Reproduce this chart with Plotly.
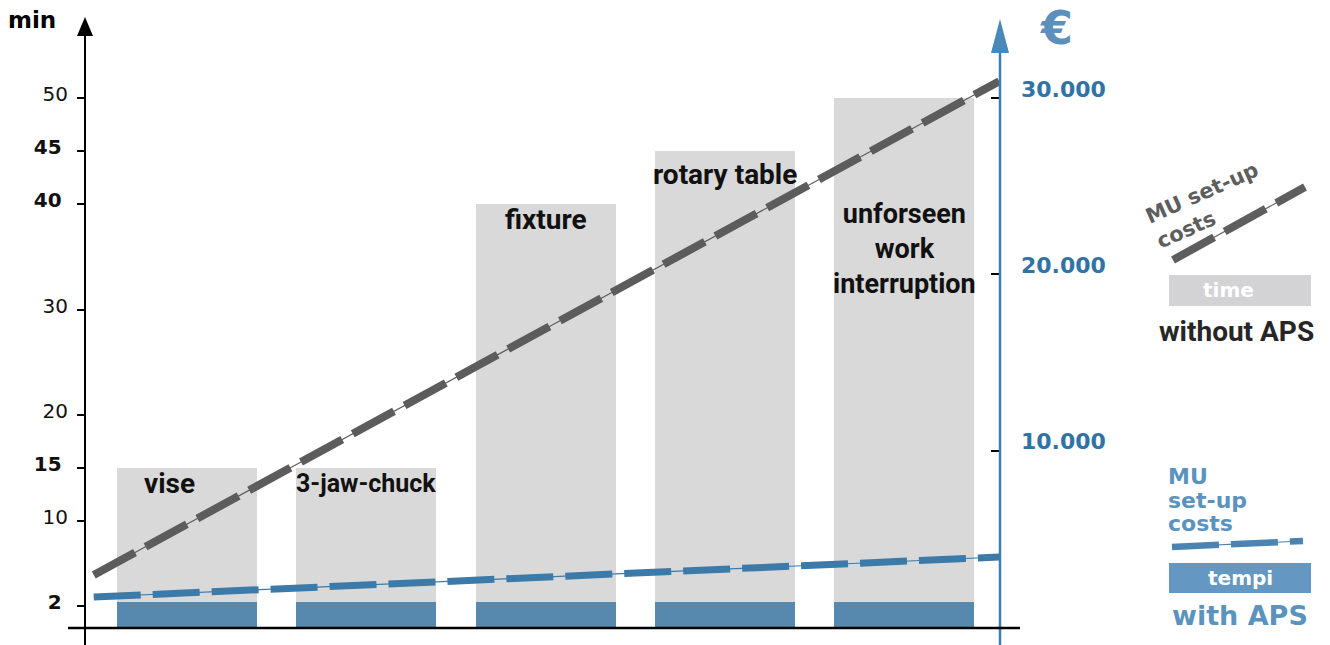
import plotly.graph_objects as go

# ---------------- data ----------------
categories = ["vise", "3-jaw-chuck", "fixture", "rotary table",
              "unforseen<br>work<br>interruption"]
time_without_aps = [15, 15, 40, 45, 50]          # min (grey bars)
time_with_aps = [2.4, 2.4, 2.4, 2.4, 2.4]        # min (blue bars)
cost_line_x = [-0.52, 4.53]                      # category-axis extent of cost lines
cost_without_aps = [2950, 30950]                 # € (grey dashed)
cost_with_aps = [1700, 3970]                     # € (blue dashed)
min_tickvals = [2, 10, 15, 20, 30, 40, 45, 50]
min_ticktext = ["<b>2</b>\u00a0", "10", "<b>15</b>\u00a0", "20", "30",
                "<b>40</b>\u00a0", "<b>45</b>\u00a0", "50"]
eur_tickvals = [10000, 20000, 30000]
eur_ticktext = ["10.000", "20.000", "30.000"]

# ---------------- layout geometry (screen pixels) ----------------
W, H = 1330, 645
LEFT_AX, RIGHT_AX, TOP_PX, BOT_PX = 85, 1000, 20, 627
ML, MR = LEFT_AX, W - RIGHT_AX
MT, MB = TOP_PX, H - BOT_PX
PW, PH = W - ML - MR, H - MT - MB
Y_TOP = (BOT_PX - TOP_PX) / 10.58     # minutes at top of plot area
EUR_PER_MIN = 600.0
CAT_STEP, CAT0 = 179.3, 187.0
X_RANGE = [(LEFT_AX - CAT0) / CAT_STEP, (RIGHT_AX - CAT0) / CAT_STEP]


def px(xs):
    return (xs - LEFT_AX) / PW


def py(ys):
    return (BOT_PX - ys) / PH


NARROW = "Roboto, sans-serif"
WIDE = "DejaVu Sans, Verdana, sans-serif"
GREY_BAR = "#d9d9d9"
BLUE_BAR = "#5689ad"
GREY_LINE = "#5c5c5c"
BLUE_LINE = "#3c7aa9"
AXIS_BLUE = "#3d7db1"

idx = list(range(len(categories)))

fig = go.Figure()
fig.add_trace(go.Bar(x=idx, y=time_without_aps, width=0.78, marker_color=GREY_BAR,
                     marker_line_width=0, hoverinfo="skip", showlegend=False))
fig.add_trace(go.Bar(x=idx, y=time_with_aps, width=0.78, marker_color=BLUE_BAR,
                     marker_line_width=0, hoverinfo="skip", showlegend=False))

for vals, color, w in [(cost_without_aps, GREY_LINE, 8), (cost_with_aps, BLUE_LINE, 7)]:
    fig.add_trace(go.Scatter(x=cost_line_x, y=vals, yaxis="y2", mode="lines",
                             line=dict(color=color, width=1.2), hoverinfo="skip",
                             showlegend=False))
    fig.add_trace(go.Scatter(x=cost_line_x, y=vals, yaxis="y2", mode="lines",
                             line=dict(color=color, width=w, dash="47px,12px"),
                             hoverinfo="skip", showlegend=False))

annotations = []
# bar labels (pixel nudges and sizes per label)
nudges = {0: (-18, 0), 1: (0, -2), 2: (0, 0), 3: (0, -8), 4: (0, -101)}
sizes = {1: 25, 4: 27}
for i, cat in enumerate(categories):
    dx, dy = nudges[i]
    annotations.append(dict(x=i, y=time_without_aps[i], xref="x", yref="y", text=cat,
                            showarrow=False, yanchor="top", xanchor="center",
                            xshift=dx, yshift=dy + 3, align="center",
                            font=dict(family=NARROW, size=sizes.get(i, 28),
                                      color="#111111", weight="bold")))


def label(x, y, text, size, color, family=WIDE, xanchor="center", **kw):
    return dict(x=px(x), y=py(y), xref="paper", yref="paper", text=text,
                showarrow=False, xanchor=xanchor, yanchor="middle",
                font=dict(family=family, size=size, color=color, weight="bold"), **kw)


# axis titles
annotations.append(label(32, 20, "min", 23, "#000000"))
annotations.append(label(1056, 28, "€", 46, "#5a90bb"))

# legend texts
annotations.append(label(1207, 205, "MU set-up<br>costs", 21, "#5e5e5e",
                         textangle=-24, align="left"))
annotations.append(label(1228, 290, "time", 20, "#ffffff"))
annotations.append(label(1236, 331, "without APS", 28, "#262626", family=NARROW))
for txt, yy in [("MU", 476), ("set-up", 500), ("costs", 523)]:
    annotations.append(label(1166, yy, txt, 22, "#5b93bf", xanchor="left"))
annotations.append(label(1240, 578, "tempi", 20, "#ffffff"))
annotations.append(label(1240, 615, "with APS", 27, "#5b93bf"))


def pline(x0, y0, x1, y1, color, width, dash="solid"):
    return dict(type="line", xref="paper", yref="paper", x0=px(x0), y0=py(y0),
                x1=px(x1), y1=py(y1), line=dict(color=color, width=width, dash=dash))


def tri(xc, ytip, ybase, half, color):
    path = (f"M {px(xc)},{py(ytip)} L {px(xc - half)},{py(ybase)} "
            f"L {px(xc + half)},{py(ybase)} Z")
    return dict(type="path", xref="paper", yref="paper", path=path,
                fillcolor=color, line=dict(width=0))


def rect(x0, y0, x1, y1, color):
    return dict(type="rect", xref="paper", yref="paper", x0=px(x0), y0=py(y0),
                x1=px(x1), y1=py(y1), fillcolor=color, line=dict(width=0))


shapes = [
    pline(85, 645, 85, 34, "#000000", 2),
    tri(85, 17, 36, 8, "#000000"),
    pline(1000, 645, 1000, 50, AXIS_BLUE, 2.5),
    tri(1000, 19, 53, 9, "#4a88b8"),
    pline(68, 628, 1020, 628, "#000000", 2.5),
    # legend: without APS
    pline(1173, 260, 1305, 187, "#6a6a6a", 1.2),
    pline(1173, 260, 1305, 187, "#5e5e5e", 8, "47px,12px"),
    rect(1169, 275, 1311, 306, "#d3d3d5"),
    # legend: with APS
    pline(1172, 547, 1303, 541, "#4a84b3", 1.2),
    pline(1172, 547, 1303, 541, "#4a84b3", 6.5, "47px,12px"),
    rect(1169, 563, 1311, 593, "#6497c1"),
]

fig.update_layout(
    width=W, height=H,
    margin=dict(l=ML, r=MR, t=MT, b=MB, autoexpand=False),
    paper_bgcolor="white", plot_bgcolor="white",
    barmode="overlay", bargap=0,
    showlegend=False,
    xaxis=dict(range=X_RANGE, showgrid=False, zeroline=False, showline=False,
               showticklabels=False, ticks="", fixedrange=True),
    yaxis=dict(range=[0, Y_TOP], tickvals=min_tickvals, ticktext=min_ticktext,
               showgrid=False, zeroline=False, showline=False,
               ticks="outside", ticklen=7, tickwidth=2, tickcolor="#000",
               ticklabelstandoff=5, ticklabelshift=-4,
               tickfont=dict(family=WIDE, size=20, color="#111111")),
    yaxis2=dict(range=[0, Y_TOP * EUR_PER_MIN], overlaying="y", side="right",
                tickvals=eur_tickvals, ticktext=eur_ticktext,
                showgrid=False, zeroline=False, showline=False,
                ticks="inside", ticklen=9, tickwidth=2, tickcolor="#000",
                ticklabelstandoff=20, ticklabelshift=-9,
                tickfont=dict(family=WIDE, size=22, color="#2f73a7", weight="bold")),
    annotations=annotations,
    shapes=shapes,
)

fig.write_html("out.html", config={"displayModeBar": False, "staticPlot": True},
               post_script="document.body.style.margin='0px';"
                           "document.body.style.overflow='hidden';")
